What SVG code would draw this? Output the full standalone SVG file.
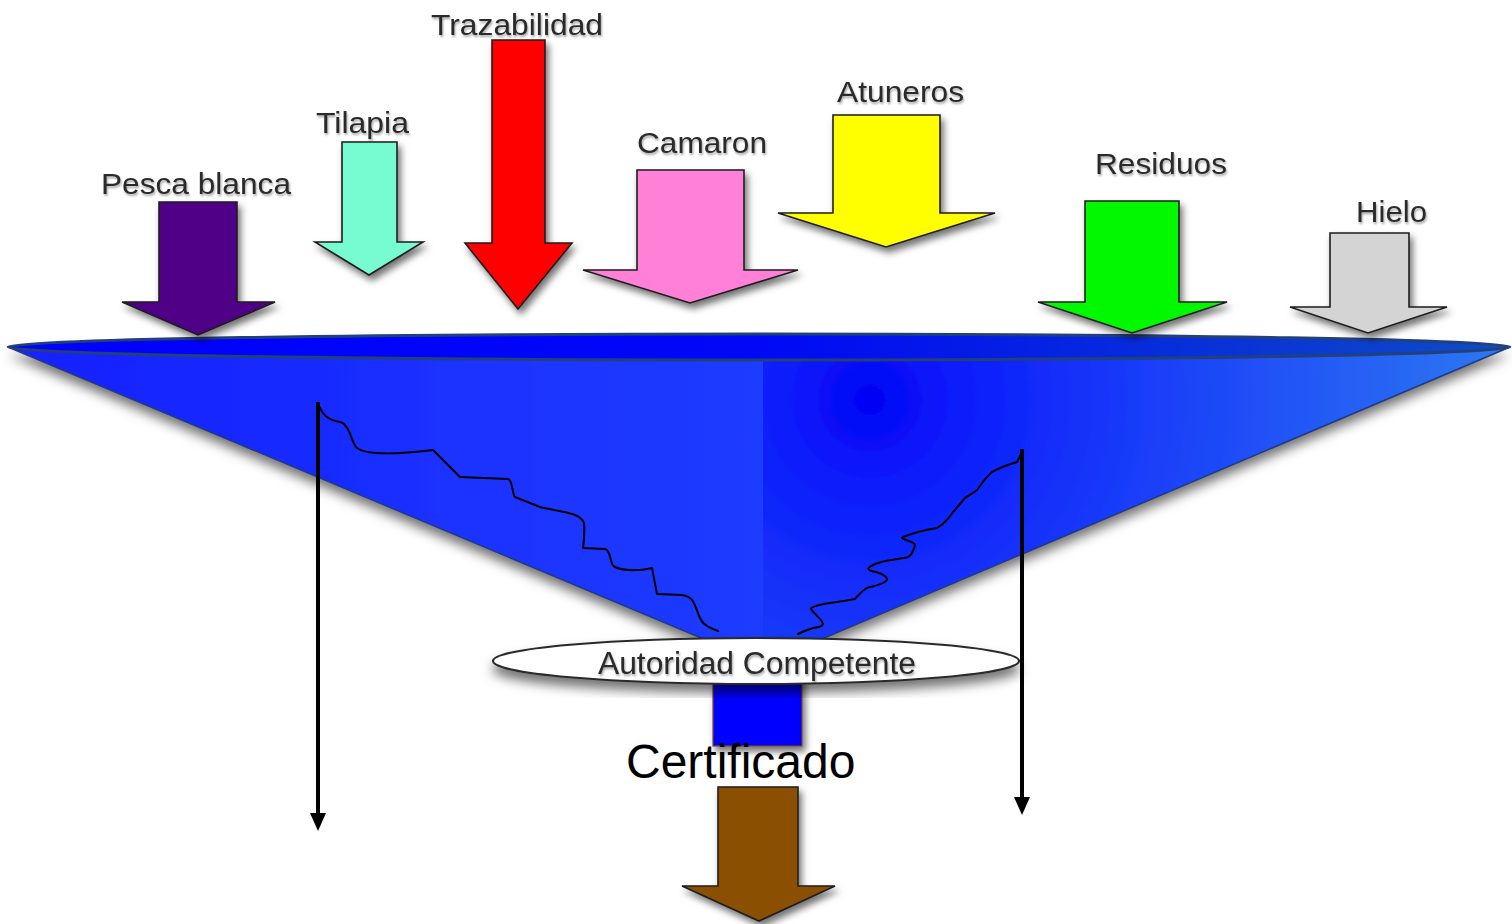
<svg xmlns="http://www.w3.org/2000/svg" width="1512" height="924" viewBox="0 0 1512 924">
<style>
.lbl{font-family:"Liberation Sans",Arial,Helvetica,sans-serif;font-size:30px;fill:#2a2a2a;filter:url(#tshadow)}
.arr{stroke:#1e1e1e;stroke-width:1.6;stroke-linejoin:miter;filter:url(#shadow)}
.vline{stroke:#000;stroke-width:4;fill:none;marker-end:url(#ah)}
.squig{stroke:#000;stroke-width:2;fill:none;stroke-linejoin:round;stroke-linecap:round}
</style>
<defs>
<filter id="shadow" x="-30%" y="-20%" width="160%" height="150%">
<feDropShadow dx="3" dy="5" stdDeviation="3.5" flood-color="#000" flood-opacity="0.55"/>
</filter>
<filter id="fshadow" x="-5%" y="-10%" width="110%" height="140%">
<feDropShadow dx="0" dy="8" stdDeviation="6" flood-color="#000" flood-opacity="0.55"/>
</filter>
<filter id="tshadow" x="-10%" y="-30%" width="120%" height="170%">
<feDropShadow dx="1" dy="2" stdDeviation="1.2" flood-color="#000" flood-opacity="0.35"/>
</filter>
<linearGradient id="gLeft" x1="8" y1="0" x2="763" y2="0" gradientUnits="userSpaceOnUse">
<stop offset="0" stop-color="#1420ff"/>
<stop offset="1" stop-color="#1f3cff"/>
</linearGradient>
<radialGradient id="gRight" cx="870" cy="400" r="720" gradientUnits="userSpaceOnUse">
<stop offset="0" stop-color="#0202f4"/>
<stop offset="0.12" stop-color="#0c1cfb"/>
<stop offset="0.45" stop-color="#1d45f8"/>
<stop offset="0.8" stop-color="#2a6ef2"/>
<stop offset="1" stop-color="#3384f0"/>
</radialGradient>
<linearGradient id="gRim" x1="8" y1="0" x2="1510" y2="0" gradientUnits="userSpaceOnUse">
<stop offset="0" stop-color="#0000ff"/>
<stop offset="0.5" stop-color="#0008f5"/>
<stop offset="1" stop-color="#0e4cc4"/>
</linearGradient>
<marker id="ah" viewBox="0 0 18 16" refX="10" refY="8" markerWidth="18" markerHeight="16" markerUnits="userSpaceOnUse" orient="auto">
<path d="M0,0 L18,8 L0,16 z" fill="#000"/>
</marker>
</defs>
<rect x="0" y="0" width="1512" height="924" fill="#fff"/>

<g id="funnel">
<g filter="url(#fshadow)">
<polygon points="8,347 763,347 763,664" fill="url(#gLeft)"/>
<polygon points="763,347 1510,347 763,664" fill="url(#gRight)"/>
</g>
<polyline points="8,347 763,664 1510,347" fill="none" stroke="#1f3a86" stroke-width="1.5"/>
<ellipse cx="759" cy="347" rx="751" ry="13" fill="url(#gRim)" stroke="#22407a" stroke-width="3"/>
</g>

<g id="node-pesca-blanca">
<polygon class="arr" fill="#4f0086" points="159,202 237,202 237,302 275,302 198,335 122,302 159,302"/>
<text class="lbl" x="101" y="194" textLength="190" lengthAdjust="spacingAndGlyphs">Pesca blanca</text>
</g>
<g id="node-tilapia">
<polygon class="arr" fill="#76fcd0" points="342,142 397,142 397,242 423,242 369,275 315,242 342,242"/>
<text class="lbl" x="316" y="133" textLength="93" lengthAdjust="spacingAndGlyphs">Tilapia</text>
</g>
<g id="node-trazabilidad">
<polygon class="arr" fill="#ff0000" points="492,40 545,40 545,243 572,243 518,309 465,243 492,243"/>
<text class="lbl" x="431" y="35" textLength="172" lengthAdjust="spacingAndGlyphs">Trazabilidad</text>
</g>
<g id="node-camaron">
<polygon class="arr" fill="#ff80d6" points="637,170 744,170 744,270 798,270 690,303 583,270 637,270"/>
<text class="lbl" x="637" y="153" textLength="130" lengthAdjust="spacingAndGlyphs">Camaron</text>
</g>
<g id="node-atuneros">
<polygon class="arr" fill="#ffff00" points="833,115 940,115 940,213 995,213 886,247 778,213 833,213"/>
<text class="lbl" x="837" y="102" textLength="127" lengthAdjust="spacingAndGlyphs">Atuneros</text>
</g>
<g id="node-residuos">
<polygon class="arr" fill="#00f800" points="1085,201 1179,201 1179,302 1227,302 1132,333 1038,302 1085,302"/>
<text class="lbl" x="1095" y="174" textLength="132" lengthAdjust="spacingAndGlyphs">Residuos</text>
</g>
<g id="node-hielo">
<polygon class="arr" fill="#d4d4d4" points="1330,233 1409,233 1409,307 1447,307 1368,333 1290,307 1330,307"/>
<text class="lbl" x="1356" y="222" textLength="71" lengthAdjust="spacingAndGlyphs">Hielo</text>
</g>

<g id="node-outlet">
<rect x="713" y="676" width="89" height="70" fill="#0000ff" stroke="#7a4a22" stroke-width="1.2" filter="url(#shadow)"/>
</g>

<g id="node-autoridad">
<ellipse cx="756" cy="661" rx="263" ry="23" fill="#fff" stroke="#2a2a2a" stroke-width="2.2" filter="url(#fshadow)"/>
<text class="lbl" x="598" y="674" textLength="318" lengthAdjust="spacingAndGlyphs" style="font-size:31px">Autoridad Competente</text>
</g>

<g id="node-certificado">
<text x="626" y="778" font-family="'Liberation Sans',Arial,Helvetica,sans-serif" font-size="48" fill="#000">Certificado</text>
</g>

<g id="node-output">
<polygon class="arr" fill="#8a5000" points="718,787 798,787 798,886 835,886 759,921 682,886 718,886"/>
</g>

<g id="connectors">
<path class="squig" d="M318,403 C322,415 328,420 340,422 C350,424 352,445 357,448 C368,456 400,454 433,450 L460,477 L508,479 C513,480 512,494 515,497 L540,507 C560,512 580,512 584,523 C585,533 583,548 583,548 L605,549 C612,551 609,565 615,567 C625,572 645,570 652,568 L657,594 L682,595 C695,597 694,605 700,618 C703,625 710,628 718,631"/>
<path class="squig" d="M1023,450 L1017,462 C1010,464 1003,466 992,472 C985,478 980,486 977,490 C972,494 968,496 965,498 C960,504 955,510 953,512 C948,520 942,525 937,528 C925,530 915,532 903,537 C898,539 915,541 915,545 C914,550 911,556 908,557 C895,560 885,560 878,563 C865,568 866,570 876,572 C884,574 888,578 887,580 C883,585 873,586 867,588 C860,592 858,596 855,599 C845,601 837,602 830,603 C822,604 810,607 811,609 C813,613 823,620 823,624 C822,628 815,627 813,628 C806,630 802,632 798,634"/>
<line class="vline" x1="318" y1="402" x2="318" y2="823"/>
<line class="vline" x1="1022" y1="449" x2="1022" y2="807"/>
</g>
</svg>
